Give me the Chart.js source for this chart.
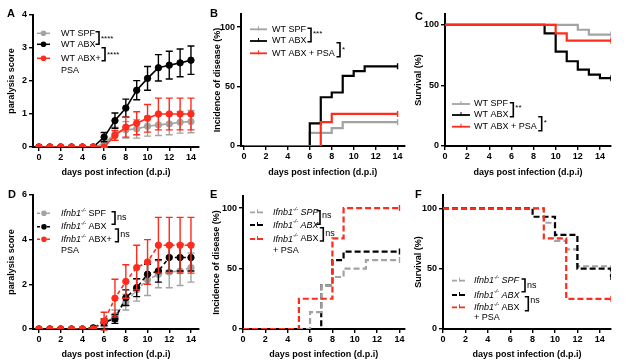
<!DOCTYPE html>
<html lang="en">
<head>
<meta charset="UTF-8">
<title>Paralysis, incidence and survival</title>
<script src="https://cdn.jsdelivr.net/npm/chart.js"></script>
<style>
  body { margin: 0; background: #fff; }
  #fig { position: relative; width: 627px; height: 363px; }
  #fig canvas { position: absolute; }
</style>
</head>
<body>
<div id="fig">
  <canvas id="panelA" width="205" height="180" style="left:0;top:0"></canvas>
  <canvas id="panelB" width="205" height="180" style="left:205px;top:0"></canvas>
  <canvas id="panelC" width="217" height="180" style="left:410px;top:0"></canvas>
  <canvas id="panelD" width="205" height="183" style="left:0;top:180px"></canvas>
  <canvas id="panelE" width="205" height="183" style="left:205px;top:180px"></canvas>
  <canvas id="panelF" width="217" height="183" style="left:410px;top:180px"></canvas>
</div>

<script>
// days
const days14 = [0, 1, 2, 3, 4, 5, 6, 7, 8, 9, 10, 11, 12, 13, 14];
const days15 = [0, 1, 2, 3, 4, 5, 6, 7, 8, 9, 10, 11, 12, 13, 14, 15];
const xTicks = [0, 2, 4, 6, 8, 10, 12, 14];

// A - WT paralysis score (mean, sem)
const wtSpfScore = [0, 0, 0, 0, 0, 0, 0.1, 0.4, 0.52, 0.55, 0.63, 0.67, 0.7, 0.75, 0.77];
const wtSpfErr   = [0, 0, 0, 0, 0, 0, 0.1, 0.2, 0.25, 0.28, 0.3, 0.32, 0.33, 0.33, 0.34];
const wtAbxScore = [0, 0, 0, 0, 0, 0, 0.3, 0.8, 1.18, 1.72, 2.08, 2.4, 2.48, 2.55, 2.63];
const wtAbxErr   = [0, 0, 0, 0, 0, 0, 0.14, 0.23, 0.27, 0.29, 0.36, 0.4, 0.42, 0.42, 0.43];
const wtPsaScore = [0, 0, 0, 0, 0, 0, 0, 0.35, 0.6, 0.72, 0.87, 1, 1, 1, 1];
const wtPsaErr   = [0, 0, 0, 0, 0, 0, 0, 0.15, 0.3, 0.35, 0.42, 0.48, 0.48, 0.48, 0.48];

// B - WT incidence of disease (%)
const wtSpfInc = [0, 0, 0, 0, 0, 0, 11, 11, 15, 20, 20, 20, 20, 20, 20];
const wtAbxInc = [0, 0, 0, 0, 0, 0, 19, 41, 45, 59, 63, 67, 67, 67, 67];
const wtPsaInc = [0, 0, 0, 0, 0, 0, 0, 20, 27, 27, 27, 27, 27, 27, 27];

// C - WT survival (%)
const wtSpfSurv = [100, 100, 100, 100, 100, 100, 100, 100, 100, 100, 100, 100, 96, 92, 92, 92];
const wtAbxSurv = [100, 100, 100, 100, 100, 100, 100, 100, 100, 93, 78, 70, 63, 59, 56, 56];
const wtPsaSurv = [100, 100, 100, 100, 100, 100, 100, 100, 100, 100, 93, 87, 87, 87, 87, 87];

// D - Ifnb1-/- paralysis score
const koSpfScore = [0, 0, 0, 0, 0, 0.05, 0.25, 0.6, 1.2, 1.75, 2.2, 2.45, 2.55, 2.6, 2.75];
const koSpfErr   = [0, 0, 0, 0, 0, 0, 0.15, 0.25, 0.35, 0.5, 0.7, 0.6, 0.7, 0.65, 0.65];
const koAbxScore = [0, 0, 0, 0, 0, 0.05, 0.3, 0.45, 1.4, 1.85, 2.45, 2.6, 3.2, 3.2, 3.2];
const koAbxErr   = [0, 0, 0, 0, 0, 0, 0.15, 0.2, 0.35, 0.4, 0.45, 0.5, 0.6, 0.6, 0.6];
const koPsaScore = [0, 0, 0, 0, 0, 0, 0.35, 1.38, 2.13, 2.75, 3, 3.75, 3.75, 3.75, 3.75];
const koPsaErr   = [0, 0, 0, 0, 0, 0, 0.4, 0.85, 0.75, 1.0, 1.0, 1.25, 1.25, 1.25, 1.25];

// E - Ifnb1-/- incidence of disease (%)
const koSpfInc = [0, 0, 0, 0, 0, 0, 14, 36, 43, 50, 50, 57, 57, 57, 57];
const koAbxInc = [0, 0, 0, 0, 0, 0, 0, 36, 57, 64, 64, 64, 64, 64, 64];
const koPsaInc = [0, 0, 0, 0, 0, 25, 25, 25, 75, 100, 100, 100, 100, 100, 100];

// F - Ifnb1-/- survival (%)
const koSpfSurv = [100, 100, 100, 100, 100, 100, 100, 100, 100, 88, 73, 66, 52, 52, 52, 47];
const koAbxSurv = [100, 100, 100, 100, 100, 100, 100, 100, 93, 93, 78, 78, 50, 50, 50, 43];
const koPsaSurv = [100, 100, 100, 100, 100, 100, 100, 100, 100, 75, 75, 25, 25, 25, 25, 25];

const FONT = '"Liberation Sans", Arial, Helvetica, sans-serif';
const GREY = '#a3a3a3', BLACK = '#000000', RED = '#ff2b1c';

Chart.defaults.font.family = FONT;
Chart.defaults.color = '#000';

// legend labels (rich text pieces)
const ko = (rest, it) => [{ t: 'Ifnb1', i: true }, { t: '-/-', i: true, sup: true }, { t: rest, i: it }];
const txt = s => [{ t: s }];

function pts(xs, ys) {
  return xs.map((x, i) => ({ x: x, y: ys[i] }));
}

function scoreSet(vals, errs, color, dash) {
  return {
    data: pts(days14, vals), errors: errs,
    borderColor: color, backgroundColor: color,
    pointBackgroundColor: color, pointBorderColor: color,
    pointRadius: 3.2, pointBorderWidth: 1, borderWidth: 1.6,
    borderDash: dash || [], tension: 0
  };
}

function stepSet(xs, vals, color, dash) {
  return {
    data: pts(xs, vals),
    borderColor: color, backgroundColor: color,
    borderWidth: 2.2, borderDash: dash || [], stepped: 'before',
    pointStyle: 'line', rotation: 90, pointBorderColor: color, pointBorderWidth: 1.4,
    pointRadius: c => (c.dataIndex === vals.length - 1 ? 3 : 0)
  };
}

function drawRich(ctx, x, y, segs, size) {
  segs.forEach(s => {
    const fs = s.sup ? size * 0.6 : size;
    ctx.font = (s.i ? 'italic ' : '') + fs + 'px ' + FONT;
    ctx.fillText(s.t, x, s.sup ? y - size * 0.35 : y);
    x += ctx.measureText(s.t).width;
  });
}

const errorBars = {
  id: 'errorBars',
  beforeDatasetDraw(chart, args) {
    const ds = chart.data.datasets[args.index];
    if (!ds.errors) return;
    const ctx = chart.ctx, ys = chart.scales.y;
    ctx.save();
    ctx.strokeStyle = ds.borderColor;
    ctx.lineWidth = 1.4;
    args.meta.data.forEach((p, i) => {
      const e = ds.errors[i];
      if (!e) return;
      const v = ds.data[i].y;
      const t = ys.getPixelForValue(v + e), b = ys.getPixelForValue(v - e);
      ctx.beginPath();
      ctx.moveTo(p.x, t); ctx.lineTo(p.x, b);
      ctx.moveTo(p.x - 3.5, t); ctx.lineTo(p.x + 3.5, t);
      ctx.moveTo(p.x - 3.5, b); ctx.lineTo(p.x + 3.5, b);
      ctx.stroke();
    });
    ctx.restore();
  }
};

const figLegend = {
  id: 'figLegend',
  afterDraw(chart, args, o) {
    const ctx = chart.ctx;
    ctx.save();
    ctx.textBaseline = 'middle';
    ctx.textAlign = 'left';
    ctx.fillStyle = '#000';
    ctx.font = 'bold 11px ' + FONT;
    ctx.fillText(o.letter[0], o.letter[1], o.letter[2]);

    o.rows.forEach(r => {
      ctx.strokeStyle = r.color;
      ctx.fillStyle = r.color;
      ctx.lineWidth = o.lw;
      ctx.setLineDash(o.dash || []);
      ctx.beginPath();
      ctx.moveTo(o.sx, r.y); ctx.lineTo(o.sx + o.sw, r.y);
      ctx.stroke();
      ctx.setLineDash([]);
      const cx = o.sx + o.sw / 2;
      if (o.marker === 'circle') {
        ctx.beginPath(); ctx.arc(cx, r.y, 2.8, 0, Math.PI * 2); ctx.fill();
      } else {
        ctx.lineWidth = 1;
        ctx.beginPath(); ctx.moveTo(cx, r.y - 3); ctx.lineTo(cx, r.y + 1); ctx.stroke();
      }
      ctx.fillStyle = '#000';
      drawRich(ctx, o.tx, r.y, r.label, 9);
    });
    (o.extra || []).forEach(e => {
      ctx.font = '9px ' + FONT;
      ctx.fillText(e.text, o.tx, e.y);
    });

    ctx.strokeStyle = '#000';
    ctx.fillStyle = '#000';
    ctx.lineWidth = 1.6;
    o.brackets.forEach(b => {
      ctx.beginPath();
      ctx.moveTo(b.x - 3.5, b.y1); ctx.lineTo(b.x, b.y1);
      ctx.lineTo(b.x, b.y2); ctx.lineTo(b.x - 3.5, b.y2);
      ctx.stroke();
      ctx.font = (b.text === 'ns' ? 9 : 8) + 'px ' + FONT;
      ctx.fillText(b.text, b.x + 2, b.ty);
    });
    ctx.restore();
  }
};

function panel(id, c) {
  new Chart(document.getElementById(id), {
    type: 'line',
    data: { datasets: c.datasets },
    options: {
      responsive: false,
      animation: false,
      devicePixelRatio: 1,
      layout: { padding: { top: c.top, right: c.right, left: 0, bottom: 0 } },
      plugins: { legend: { display: false }, tooltip: { enabled: false }, figLegend: c.legend },
      scales: {
        x: {
          type: 'linear', min: c.xMin, max: c.xMax,
          afterBuildTicks: s => { s.ticks = xTicks.map(v => ({ value: v })); },
          afterFit: s => { s.height = c.xH; },
          border: { color: '#000', width: 2 },
          grid: { drawOnChartArea: false, color: '#000', lineWidth: 1.4, tickLength: 4 },
          ticks: { font: { size: 9, weight: 'bold' }, color: '#000', padding: 1, maxRotation: 0, autoSkip: false },
          title: { display: true, text: 'days post infection (d.p.i)', color: '#000',
                   font: { size: 9, weight: 'bold' }, padding: { top: 0, bottom: c.xTitlePad } }
        },
        y: {
          min: 0, max: c.yMax,
          afterBuildTicks: s => { s.ticks = c.yTicks.map(v => ({ value: v })); },
          afterFit: s => { s.width = c.yW; },
          border: { color: '#000', width: 2 },
          grid: { drawOnChartArea: false, color: '#000', lineWidth: 1.4, tickLength: 4 },
          ticks: { font: { size: 9, weight: 'bold' }, color: '#000', padding: 2 },
          title: { display: true, text: c.yTitle, color: '#000',
                   font: { size: 9, weight: 'bold' }, padding: { top: c.yTitleX - 5.4, bottom: 0 } }
        }
      }
    },
    plugins: [errorBars, figLegend]
  });
}

panel('panelA', {
  datasets: [scoreSet(wtPsaScore, wtPsaErr, RED), scoreSet(wtAbxScore, wtAbxErr, BLACK), scoreSet(wtSpfScore, wtSpfErr, GREY)],
  top: 15, right: 6, yW: 33, xH: 33, xMin: -0.55, xMax: 14.74, yMax: 4, yTicks: [0, 1, 2, 3, 4],
  yTitle: 'paralysis score', yTitleX: 12, xTitlePad: 1.6,
  legend: {
    letter: ['A', 7, 13.5], sx: 37, sw: 13, tx: 61, lw: 1.5, marker: 'circle',
    rows: [{ y: 33.3, color: GREY, label: txt('WT SPF') }, { y: 44.3, color: BLACK, label: txt('WT ABX') },
           { y: 58.3, color: RED, label: txt('WT ABX+') }],
    extra: [{ text: 'PSA', y: 70.7 }],
    brackets: [{ x: 99, y1: 31.7, y2: 44.3, text: '****', ty: 39 }, { x: 105, y1: 47.7, y2: 60.7, text: '****', ty: 55 }]
  }
});

panel('panelB', {
  datasets: [stepSet(days14, wtPsaInc, RED), stepSet(days14, wtAbxInc, BLACK), stepSet(days14, wtSpfInc, GREY)],
  top: 14, right: 5, yW: 36, xH: 34, xMin: -0.27, xMax: 14.64, yMax: 111, yTicks: [0, 50, 100],
  yTitle: 'Incidence of disease (%)', yTitleX: 13, xTitlePad: 2,
  legend: {
    letter: ['B', 5, 14], sx: 45, sw: 17, tx: 67, lw: 1.8, marker: 'tick',
    rows: [{ y: 29.3, color: GREY, label: txt('WT SPF') }, { y: 41, color: BLACK, label: txt('WT ABX') },
           { y: 53.3, color: RED, label: txt('WT ABX + PSA') }],
    brackets: [{ x: 106, y1: 28.3, y2: 41.7, text: '***', ty: 34 }, { x: 135, y1: 42.7, y2: 56.7, text: '*', ty: 50 }]
  }
});

panel('panelC', {
  datasets: [stepSet(days15, wtPsaSurv, RED), stepSet(days15, wtAbxSurv, BLACK), stepSet(days15, wtSpfSurv, GREY)],
  top: 14, right: 16, yW: 35, xH: 34, xMin: 0, xMax: 15, yMax: 109, yTicks: [0, 50, 100],
  yTitle: 'Survival (%)', yTitleX: 9, xTitlePad: 2,
  legend: {
    letter: ['C', 5, 16.5], sx: 42, sw: 18, tx: 64, lw: 1.8, marker: 'tick',
    rows: [{ y: 104, color: GREY, label: txt('WT SPF') }, { y: 115, color: BLACK, label: txt('WT ABX') },
           { y: 126.7, color: RED, label: txt('WT ABX + PSA') }],
    brackets: [{ x: 103.3, y1: 102.7, y2: 116.7, text: '**', ty: 108 }, { x: 131.7, y1: 116.7, y2: 130.7, text: '*', ty: 123 }]
  }
});

panel('panelD', {
  datasets: [scoreSet(koPsaScore, koPsaErr, RED, [4, 3]), scoreSet(koAbxScore, koAbxErr, BLACK, [4, 3]), scoreSet(koSpfScore, koSpfErr, GREY, [4, 3])],
  top: 15, right: 6, yW: 33, xH: 34, xMin: -0.55, xMax: 14.74, yMax: 6, yTicks: [0, 2, 4, 6],
  yTitle: 'paralysis score', yTitleX: 12, xTitlePad: 3.4,
  legend: {
    letter: ['D', 8, 15], sx: 37, sw: 14, tx: 61, lw: 1.5, marker: 'circle', dash: [3, 2],
    rows: [{ y: 33.3, color: GREY, label: ko(' SPF', false) }, { y: 46.7, color: BLACK, label: ko(' ABX', false) },
           { y: 59.3, color: RED, label: ko(' ABX+', false) }],
    extra: [{ text: 'PSA', y: 71 }],
    brackets: [{ x: 115, y1: 31.7, y2: 44.3, text: 'ns', ty: 38 }, { x: 118.3, y1: 49, y2: 61.7, text: 'ns', ty: 55 }]
  }
});

panel('panelE', {
  datasets: [stepSet(days14, koPsaInc, RED, [6, 3]), stepSet(days14, koSpfInc, GREY, [6, 3]), stepSet(days14, koAbxInc, BLACK, [6, 3])],
  top: 16, right: 5, yW: 38, xH: 34, xMin: 0, xMax: 14.46, yMax: 110, yTicks: [0, 50, 100],
  yTitle: 'Incidence of disease (%)', yTitleX: 12, xTitlePad: 3.4,
  legend: {
    letter: ['E', 5, 15], sx: 45, sw: 15, tx: 68, lw: 1.8, marker: 'tick', dash: [5, 3],
    rows: [{ y: 32.3, color: GREY, label: ko(' SPF', true) }, { y: 45, color: BLACK, label: ko(' ABX', true) },
           { y: 59, color: RED, label: ko(' ABX', false) }],
    extra: [{ text: '+ PSA', y: 70.7 }],
    brackets: [{ x: 115, y1: 30.7, y2: 44.3, text: 'ns', ty: 36 }, { x: 118.3, y1: 47.7, y2: 61, text: 'ns', ty: 53.3 }]
  }
});

panel('panelF', {
  datasets: [stepSet(days15, koPsaSurv, RED, [6, 3]), stepSet(days15, koAbxSurv, BLACK, [6, 3]), stepSet(days15, koSpfSurv, GREY, [6, 3])],
  top: 15, right: 16, yW: 33, xH: 34, xMin: 0, xMax: 15, yMax: 111, yTicks: [0, 50, 100],
  yTitle: 'Survival (%)', yTitleX: 9, xTitlePad: 3,
  legend: {
    letter: ['F', 5, 15], sx: 42, sw: 15, tx: 64, lw: 1.8, marker: 'tick', dash: [5, 3],
    rows: [{ y: 100.7, color: GREY, label: ko(' SPF', true) }, { y: 115, color: BLACK, label: ko(' ABX', true) },
           { y: 127.3, color: RED, label: ko(' ABX', false) }],
    extra: [{ text: '+ PSA', y: 137.3 }],
    brackets: [{ x: 115, y1: 99, y2: 111.7, text: 'ns', ty: 106 }, { x: 118.3, y1: 116.7, y2: 130.7, text: 'ns', ty: 120.7 }]
  }
});
</script>
</body>
</html>
